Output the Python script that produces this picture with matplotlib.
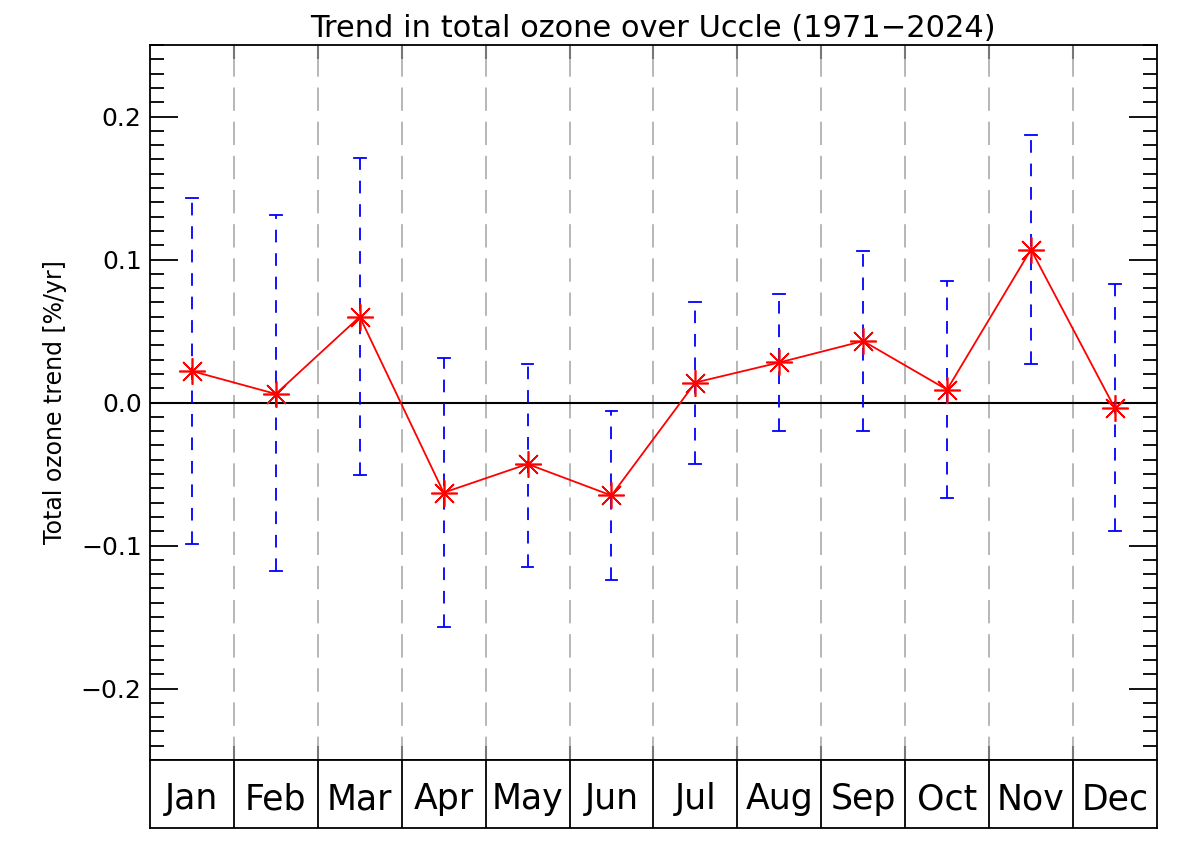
import numpy as np
import matplotlib.pyplot as plt
from matplotlib.ticker import MultipleLocator

plt.rcParams['font.family'] = ['DejaVu Sans']

months = ['Jan', 'Feb', 'Mar', 'Apr', 'May', 'Jun', 'Jul', 'Aug', 'Sep', 'Oct', 'Nov', 'Dec']
trend = [0.022, 0.006, 0.060, -0.063, -0.043, -0.065, 0.014, 0.028, 0.043, 0.009, 0.107, -0.004]
upper = [0.143, 0.131, 0.171, 0.031, 0.027, -0.006, 0.070, 0.076, 0.106, 0.085, 0.187, 0.083]
lower = [-0.099, -0.118, -0.051, -0.157, -0.115, -0.124, -0.043, -0.020, -0.020, -0.067, 0.027, -0.090]

x = np.arange(1, len(months) + 1)
bounds = np.arange(0.5, len(months) + 1.0, 1.0)

fig = plt.figure(figsize=(12, 8.56), dpi=100)
ax = fig.add_axes([0.125, 0.1121, 0.839, 0.8353])
axm = fig.add_axes([0.125, 0.0327, 0.839, 0.0794])

# month boundaries
for b in bounds[1:-1]:
    ax.axvline(b, color='#aaaaaa', linestyle=(0, (14, 6.5)), linewidth=1.2, zorder=1)

ax.axhline(0, color='black', linewidth=1.5, zorder=2)

# error bars (blue dashed with caps)
for xi, lo, hi in zip(x, lower, upper):
    ax.plot([xi, xi], [lo, hi], color='blue', linestyle=(0, (7, 6)), linewidth=1.3, zorder=3)
    ax.plot([xi - 0.07, xi + 0.07], [hi, hi], color='blue', linewidth=1.3, zorder=3)
    ax.plot([xi - 0.07, xi + 0.07], [lo, lo], color='blue', linewidth=1.3, zorder=3)

ax.plot(x, trend, color='red', linewidth=1.3, marker=(8, 2, 0), markersize=19,
        markeredgewidth=1.2, zorder=4)

ax.set_xlim(0.5, 12.5)
ax.set_ylim(-0.25, 0.25)
ax.set_xticks(bounds[1:-1])
ax.set_xticklabels([])
ax.tick_params(axis='x', which='major', direction='in', length=10, width=1.5,
               color='#777777', top=True, bottom=True)
ax.yaxis.set_major_locator(MultipleLocator(0.1))
ax.yaxis.set_minor_locator(MultipleLocator(0.01))
ax.tick_params(axis='y', which='major', direction='in', length=20, width=1.3,
               left=True, right=True, labelsize=18, pad=6)
ax.tick_params(axis='y', which='minor', direction='in', length=10, width=1.3,
               left=True, right=True)
ax.set_yticklabels([f'{v:.1f}'.replace('-', '\u2212') for v in ax.get_yticks()])
ax.set_ylabel('Total ozone trend [%/yr]', fontsize=17, labelpad=10)
ax.set_title('Trend in total ozone over Uccle (1971\u22122024)', fontsize=22, pad=6)
for s in ax.spines.values():
    s.set_linewidth(1.3)

# month label strip
axm.set_xlim(0.5, 12.5)
axm.set_ylim(0, 1)
for b in bounds[1:-1]:
    axm.axvline(b, color='black', linewidth=1.3)
for xi, m in zip(x, months):
    axm.text(xi, 0.42, m, ha='center', va='center', fontsize=25)
axm.set_xticks([])
axm.set_yticks([])
for s in axm.spines.values():
    s.set_linewidth(1.3)

fig.savefig('out.png', dpi=100, facecolor='white')
